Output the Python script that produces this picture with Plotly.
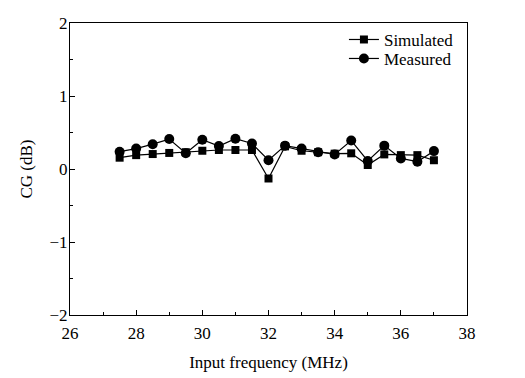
import plotly.graph_objects as go

freq = [27.5, 28, 28.5, 29, 29.5, 30, 30.5, 31, 31.5, 32, 32.5, 33, 33.5, 34, 34.5, 35, 35.5, 36, 36.5, 37]
simulated = [0.155, 0.19, 0.205, 0.22, 0.23, 0.25, 0.26, 0.26, 0.26, -0.13, 0.31, 0.25, 0.23, 0.21, 0.215, 0.055, 0.2, 0.19, 0.19, 0.12]
measured = [0.237, 0.28, 0.34, 0.41, 0.215, 0.40, 0.315, 0.415, 0.35, 0.12, 0.32, 0.28, 0.23, 0.20, 0.39, 0.11, 0.32, 0.145, 0.10, 0.245]

font = "Liberation Serif, Times New Roman, serif"
fs = 17

fig = go.Figure()
fig.add_trace(go.Scatter(x=freq, y=simulated, name="Simulated", mode="lines+markers",
                         line=dict(color="black", width=1.2),
                         marker=dict(symbol="square", size=8, color="black"),
                         legend="legend", showlegend=True))
fig.add_trace(go.Scatter(x=freq, y=measured, name="Measured", mode="lines+markers",
                         line=dict(color="black", width=1.2),
                         marker=dict(symbol="circle", size=10, color="black"),
                         legend="legend2", showlegend=True))

axis_common = dict(showline=True, linecolor="black", linewidth=1, mirror=True,
                   showgrid=False, zeroline=False, ticks="inside", ticklen=5,
                   tickcolor="black", automargin=False,
                   tickfont=dict(family=font, size=fs, color="black"))

fig.update_xaxes(range=[26, 38], tickvals=[26, 28, 30, 32, 34, 36, 38],
                 minor=dict(tickvals=[27, 29, 31, 33, 35, 37], ticks="inside", ticklen=3, tickcolor="black"),
                 ticklabelstandoff=3,
                 title=dict(text="Input frequency (MHz)", font=dict(family=font, size=fs, color="black"), standoff=13),
                 **axis_common)
fig.update_yaxes(range=[-2, 2], tickvals=[-2, -1, 0, 1, 2], ticktext=["\u22122", "\u22121", "0", "1", "2"],
                 minor=dict(tickvals=[-1.5, -0.5, 0.5, 1.5], ticks="inside", ticklen=3, tickcolor="black"),
                 ticklabelstandoff=-2,
                 title=dict(text="CG (dB)", font=dict(family=font, size=fs, color="black"), standoff=12),
                 **axis_common)

leg = dict(xanchor="left", yanchor="middle", bgcolor="rgba(0,0,0,0)",
           font=dict(family=font, size=fs, color="black"), itemwidth=30, visible=True)
fig.update_layout(width=525, height=378, margin=dict(l=70, r=58, t=23, b=63),
                  paper_bgcolor="white", plot_bgcolor="white", showlegend=True,
                  font=dict(family=font, size=fs, color="black"),
                  legend=dict(x=0.69, y=0.942, **leg),
                  legend2=dict(x=0.69, y=0.877, **leg))

fig.write_html("out.html", config={"displayModeBar": False},
               post_script="document.body.style.margin='0px';")
